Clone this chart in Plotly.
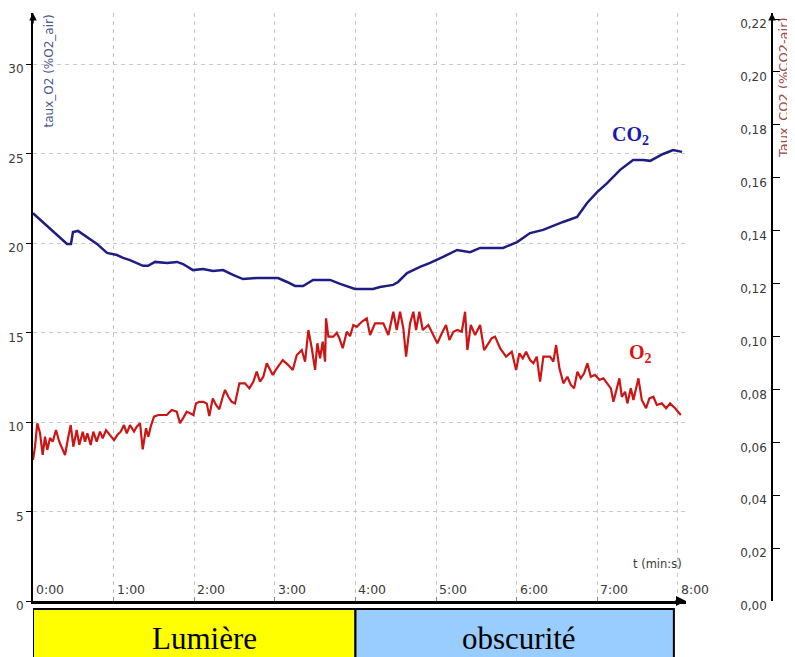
import plotly.graph_objects as go

# ---------------- data ----------------
co2_t = [0.0, 0.124, 0.298, 0.422, 0.471, 0.496, 0.558, 0.794, 0.918, 1.042,
         1.117, 1.203, 1.365, 1.427, 1.514, 1.663, 1.787, 1.861, 1.985, 2.109,
         2.233, 2.357, 2.481, 2.605, 2.779, 3.040, 3.151, 3.251, 3.350, 3.474,
         3.685, 3.809, 3.995, 4.218, 4.305, 4.467, 4.529, 4.640, 4.801, 4.926,
         5.087, 5.261, 5.422, 5.546, 5.831, 6.005, 6.166, 6.328, 6.576, 6.749,
         6.873, 6.998, 7.122, 7.283, 7.444, 7.568, 7.655, 7.816, 7.940, 8.052]
co2_val = [0.1466, 0.1433, 0.1384, 0.1350, 0.1350, 0.1395, 0.1399, 0.1350, 0.1316, 0.1308,
           0.1297, 0.1289, 0.1267, 0.1267, 0.1282, 0.1278, 0.1282, 0.1274, 0.1251, 0.1255,
           0.1248, 0.1251, 0.1233, 0.1217, 0.1221, 0.1221, 0.1206, 0.1191, 0.1191, 0.1214,
           0.1214, 0.1199, 0.1180, 0.1180, 0.1187, 0.1195, 0.1206, 0.1240, 0.1263, 0.1278,
           0.1301, 0.1327, 0.1319, 0.1335, 0.1335, 0.1357, 0.1391, 0.1403, 0.1433, 0.1452,
           0.1505, 0.1546, 0.1580, 0.1630, 0.1667, 0.1667, 0.1664, 0.1690, 0.1705, 0.1698]

o2_t = [0.00, 0.025, 0.053, 0.087, 0.120, 0.149, 0.177, 0.211, 0.244, 0.285,
        0.326, 0.368, 0.397, 0.438, 0.468, 0.500, 0.542, 0.574, 0.617, 0.645,
        0.674, 0.716, 0.748, 0.790, 0.831, 0.865, 0.906, 0.955, 1.005, 1.046,
        1.088, 1.129, 1.163, 1.203, 1.253, 1.287, 1.328, 1.361, 1.402, 1.431,
        1.460, 1.501, 1.555, 1.659, 1.721, 1.783, 1.824, 1.873, 1.907, 1.948,
        1.989, 2.022, 2.063,
        2.113, 2.155, 2.187, 2.230, 2.270, 2.311, 2.354, 2.382, 2.423, 2.465,
        2.506, 2.560, 2.630, 2.684, 2.733, 2.775, 2.816, 2.857, 2.900, 2.940,
        2.974, 3.024, 3.098, 3.167, 3.222, 3.272, 3.334, 3.375, 3.416, 3.458,
        3.499, 3.527, 3.561, 3.594, 3.623, 3.635, 3.664, 3.726, 3.768, 3.800,
        3.842, 3.892, 3.933, 3.974, 4.016,
        4.078, 4.140, 4.181, 4.243, 4.346, 4.408, 4.470, 4.512, 4.553, 4.594,
        4.628, 4.677, 4.718, 4.752, 4.793, 4.835, 4.904, 4.959, 5.016, 5.071,
        5.124, 5.165, 5.215, 5.264, 5.319, 5.360, 5.388, 5.431, 5.484, 5.546,
        5.596, 5.636, 5.691, 5.732, 5.794, 5.868, 5.939, 5.993, 6.033,
        6.076, 6.117, 6.166, 6.207, 6.249, 6.290, 6.331, 6.414, 6.455, 6.489,
        6.530, 6.579, 6.629, 6.671, 6.712, 6.753, 6.795, 6.836, 6.877, 6.919,
        6.973, 7.026, 7.076, 7.125, 7.168, 7.200, 7.242, 7.274, 7.304, 7.345,
        7.373, 7.416, 7.448, 7.510, 7.552, 7.605, 7.646, 7.696, 7.738, 7.800,
        7.854, 7.903, 7.965, 8.036]
o2_val = [7.88, 8.62, 9.93, 9.39, 8.16, 9.18, 8.44, 9.11, 8.90, 9.55,
          8.90, 8.44, 8.16, 9.18, 9.83, 8.62, 9.55, 8.72, 9.46, 8.90,
          9.37, 8.72, 9.46, 8.90, 9.46, 9.09, 9.55, 9.27, 8.99, 9.27,
          9.46, 9.83, 9.37, 9.83, 9.46, 9.74, 9.93, 8.47, 9.65, 9.18,
          9.74, 10.30, 10.39, 10.39, 10.67, 10.58, 9.93, 10.30, 10.58, 10.49,
          10.39, 11.04, 11.13,
          11.13, 11.04, 10.34, 11.32, 10.95, 10.71, 11.41, 11.79, 11.41, 11.13,
          11.04, 12.16, 12.16, 11.88, 12.25, 12.81, 12.25, 12.53, 13.28, 12.91,
          12.63, 13.00, 13.46, 13.18, 12.91, 13.74, 14.02, 13.37, 15.14, 14.12,
          12.91, 14.40, 13.56, 14.49, 13.37, 15.79, 14.77, 14.77, 14.99, 14.68,
          14.12, 15.04, 14.80, 15.42, 15.32,
          15.60, 15.79, 14.86, 15.51, 15.51, 14.86, 16.16, 15.14, 16.16, 15.23,
          13.65, 15.51, 16.16, 15.14, 16.16, 15.14, 15.42, 14.96, 14.40, 14.96,
          15.42, 14.58, 15.04, 15.14, 15.04, 16.16, 14.02, 15.42, 14.86, 15.42,
          14.02, 14.30, 14.68, 14.77, 14.12, 13.65, 13.93, 12.91, 13.84,
          13.56, 13.93, 13.46, 13.28, 13.65, 12.25, 13.65, 13.65, 13.37, 14.30,
          13.00, 12.16, 12.53, 12.07, 11.88, 12.81, 12.44, 12.72, 13.28, 12.53,
          12.63, 12.35, 12.44, 12.16, 11.88, 11.13, 11.88, 12.44, 11.41, 11.69,
          11.04, 11.88, 11.23, 12.44, 11.23, 10.77, 11.32, 11.41, 10.95, 11.04,
          10.77, 11.04, 10.77, 10.39]

x_tick_vals = [0, 1, 2, 3, 4, 5, 6, 7, 8]
x_tick_labels = ["0:00", "1:00", "2:00", "3:00", "4:00", "5:00", "6:00", "7:00", "8:00"]
o2_tick_vals = [0, 5, 10, 15, 20, 25, 30]
co2_tick_vals = [0.00, 0.02, 0.04, 0.06, 0.08, 0.10, 0.12, 0.14, 0.16, 0.18, 0.20, 0.22]

phase_names = ["Lumière", "obscurité"]
phase_start = [0.0, 4.0]
phase_end = [4.0, 7.95]
phase_colors = ["#ffff00", "#99ccff"]

assert len(o2_t) == len(o2_val) and len(co2_t) == len(co2_val)

# ---------------- figure ----------------
fig = go.Figure()
fig.add_trace(go.Scatter(x=co2_t, y=co2_val, mode="lines", yaxis="y2",
                         line=dict(color="#1e1e82", width=2.5), name="CO2"))
fig.add_trace(go.Scatter(x=o2_t, y=o2_val, mode="lines", yaxis="y",
                         line=dict(color="#cc1515", width=2.2), name="O2"))

tick_font = dict(family="DejaVu Sans", size=12, color="#3a3a3a")

fig.update_layout(
    width=787, height=649,
    margin=dict(l=25, r=23, t=5, b=56, autoexpand=False),
    paper_bgcolor="white", plot_bgcolor="white",
    showlegend=False,
    separators=", ",
    xaxis=dict(domain=[0, 0.8836], range=[0, 8.1], tickvals=x_tick_vals,
               showticklabels=False, ticks="inside", ticklen=4, tickcolor="#888",
               showgrid=True, gridcolor="#c8c8c8", griddash="4px,4px", gridwidth=1,
               showline=True, linecolor="black", linewidth=3, zeroline=False,
               automargin=False),
    yaxis=dict(range=[0, 32.85], tickvals=o2_tick_vals, tickfont=tick_font,
               ticks="outside", ticklen=5, tickcolor="black", ticklabelshift=5,
               ticklabelstandoff=0, automargin=False,
               showgrid=True, gridcolor="#c8c8c8", griddash="4px,4px", gridwidth=1,
               showline=True, linecolor="black", linewidth=2, zeroline=False),
    yaxis2=dict(range=[0, 0.2223], tickvals=co2_tick_vals, tickformat=".2f",
                overlaying="y", side="left", anchor="free", position=1,
                tickfont=tick_font, ticks="inside", ticklen=7, tickcolor="black",
                ticklabelshift=5, ticklabelstandoff=2,
                automargin=False,
                showgrid=False, showline=True, linecolor="black", linewidth=1.5,
                zeroline=False),
)

# x tick labels (inside, right of tick)
for v, lab in zip(x_tick_vals, x_tick_labels):
    fig.add_annotation(x=v, y=0, xref="x", yref="paper", text=lab, showarrow=False,
                       xanchor="left", yanchor="bottom", xshift=1, yshift=2,
                       font=dict(family="DejaVu Sans", size=12.5, color="#3a3a3a"))

fig.add_annotation(x=1, y=0, xref="x domain", yref="paper", text="t (min:s)",
                   showarrow=False, xanchor="right", yanchor="bottom", xshift=-2, yshift=28,
                   font=dict(family="DejaVu Sans", size=11.5, color="#3a3a3a"))

# axis titles
fig.add_annotation(x=0, y=1, xref="paper", yref="paper", text="taux_O2 (%O2_air)",
                   showarrow=False, textangle=-90, xanchor="left", yanchor="top",
                   xshift=6, yshift=0,
                   font=dict(family="DejaVu Sans", size=12, color="#4a5a8c"))
fig.add_annotation(x=1, y=1, xref="paper", yref="paper", text="Taux_CO2 (%CO2-air)",
                   showarrow=False, textangle=-90, xanchor="left", yanchor="top",
                   xshift=2, yshift=-2,
                   font=dict(family="DejaVu Sans", size=13, color="#a04a4a"))

# series labels
fig.add_annotation(x=7.41, y=0.1760, xref="x", yref="y2", text="<b>CO<sub>2</sub></b>",
                   showarrow=False, font=dict(family="Liberation Serif", size=20, color="#1a1aa8"))
fig.add_annotation(x=7.53, y=13.8, xref="x", yref="y", text="<b>O<sub>2</sub></b>",
                   showarrow=False, font=dict(family="Liberation Serif", size=20, color="#e01010"))

# axis arrows
fig.add_annotation(x=1, y=0, xref="x domain", yref="y domain", ax=-12, ay=0, text="",
                   showarrow=True, arrowhead=2, arrowsize=1, arrowwidth=2, arrowcolor="black")
fig.add_annotation(x=0, y=1, xref="x domain", yref="y domain", ax=0, ay=12, text="",
                   showarrow=True, arrowhead=2, arrowsize=1, arrowwidth=1.5, arrowcolor="black")
fig.add_annotation(x=1, y=1, xref="paper", yref="y domain", ax=0, ay=12, text="",
                   showarrow=True, arrowhead=2, arrowsize=1, arrowwidth=1.5, arrowcolor="black")

# phase boxes below the axis
for name, x0, x1, col in zip(phase_names, phase_start, phase_end, phase_colors):
    fig.add_shape(type="rect", xref="x", yref="paper", x0=x0, x1=x1,
                  y0=-0.14, y1=-0.0136, fillcolor=col,
                  line=dict(color="black", width=2), layer="above")
    fig.add_annotation(x=(x0 + x1) / 2, y=-0.0136, xref="x", yref="paper", text=name,
                       showarrow=False, xanchor="center", yanchor="top", yshift=-10,
                       xshift=10 if x0 == 0 else 4,
                       font=dict(family="Liberation Serif", size=31, color="black"))

fig.write_html("out.html")
